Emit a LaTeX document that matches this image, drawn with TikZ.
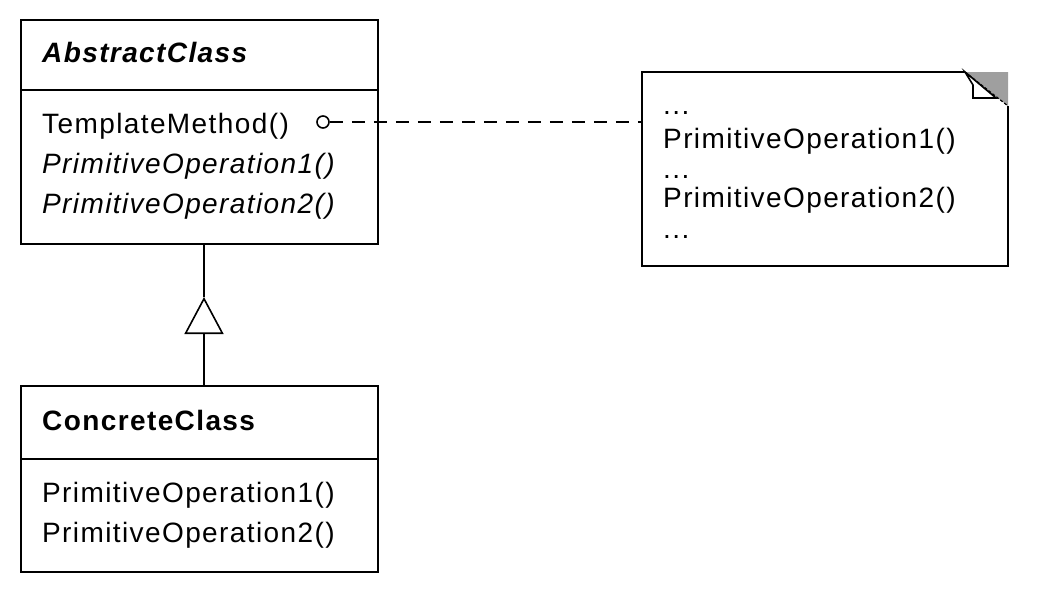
\documentclass[tikz,border=0pt]{standalone}
\usepackage{fontspec}
\setmainfont{Liberation Sans}[LetterSpace=5]
\usetikzlibrary{arrows.meta,calc}
\begin{document}
\begin{tikzpicture}[x=1pt,y=-1pt,
  box/.style={draw=black,line width=2pt,inner sep=0pt,outer sep=0pt,anchor=north west},
  txt/.style={anchor=base west,inner sep=0pt,font=\fontsize{28}{30}\selectfont},
  bt/.style={txt,font=\fontsize{28}{30}\selectfont\bfseries},
  bit/.style={txt,font=\fontsize{28}{30}\selectfont\bfseries\itshape},
  it/.style={txt,font=\fontsize{28}{30}\selectfont\itshape},
  conn/.style={line width=2pt,draw=black}]
\useasboundingbox (0,0) rectangle (1039,603);
% AbstractClass
\node[box,minimum width=357pt,minimum height=224pt] (abs) at (21,20) {};
\draw[conn] (21,90) -- (378,90);
\node[bit] (absname) at (42,62) {AbstractClass};
\node[txt] (tm) at (42,133) {TemplateMethod()};
\node[it] (po1a) at (42,173) {PrimitiveOperation1()};
\node[it] (po2a) at (42,213) {PrimitiveOperation2()};
% ConcreteClass
\node[box,minimum width=357pt,minimum height=186pt] (conc) at (21,386) {};
\draw[conn] (21,459) -- (378,459);
\node[bt] (concname) at (42,430) {ConcreteClass};
\node[txt] (po1c) at (42,502) {PrimitiveOperation1()};
\node[txt] (po2c) at (42,542) {PrimitiveOperation2()};
% inheritance
\coordinate (apex) at (204,297);
\draw[conn] (apex |- abs.south) -- (apex);
\draw[conn,-{Triangle[open,length=37pt,width=39pt,line width=1.6pt]}] (apex |- conc.north) -- (apex);
% note
\node[inner sep=0pt,outer sep=0pt,minimum width=366pt,minimum height=194pt,anchor=north west] (note) at (642,72) {};
\fill[gray!75] (965,72) -- (1008,72) -- (1008,106) -- cycle;
\draw[line width=2pt] (965,72) -- (642,72) -- (642,266) -- (1008,266) -- (1008,106);
\draw[line width=1.6pt,fill=white] (965,72) -- (973,85) -- (973,98) -- (996,98) -- cycle;
\draw[line width=1.2pt,dash pattern=on 3pt off 2pt] (965,72) -- (1008,106);
\node[txt] (d1) at (663,114) {.{}.{}.};
\node[txt] (np1) at (663,148) {PrimitiveOperation1()};
\node[txt] (d2) at (663,178) {.{}.{}.};
\node[txt] (np2) at (663,207) {PrimitiveOperation2()};
\node[txt] (d3) at (663,238) {.{}.{}.};
% dashed link
\node[circle,draw,line width=1.6pt,minimum size=12pt,inner sep=0pt] (dot) at (323,122) {};
\draw[line width=2pt,dash pattern=on 13pt off 9pt] (dot.east) -- (note.west |- dot.east);
\end{tikzpicture}
\end{document}
